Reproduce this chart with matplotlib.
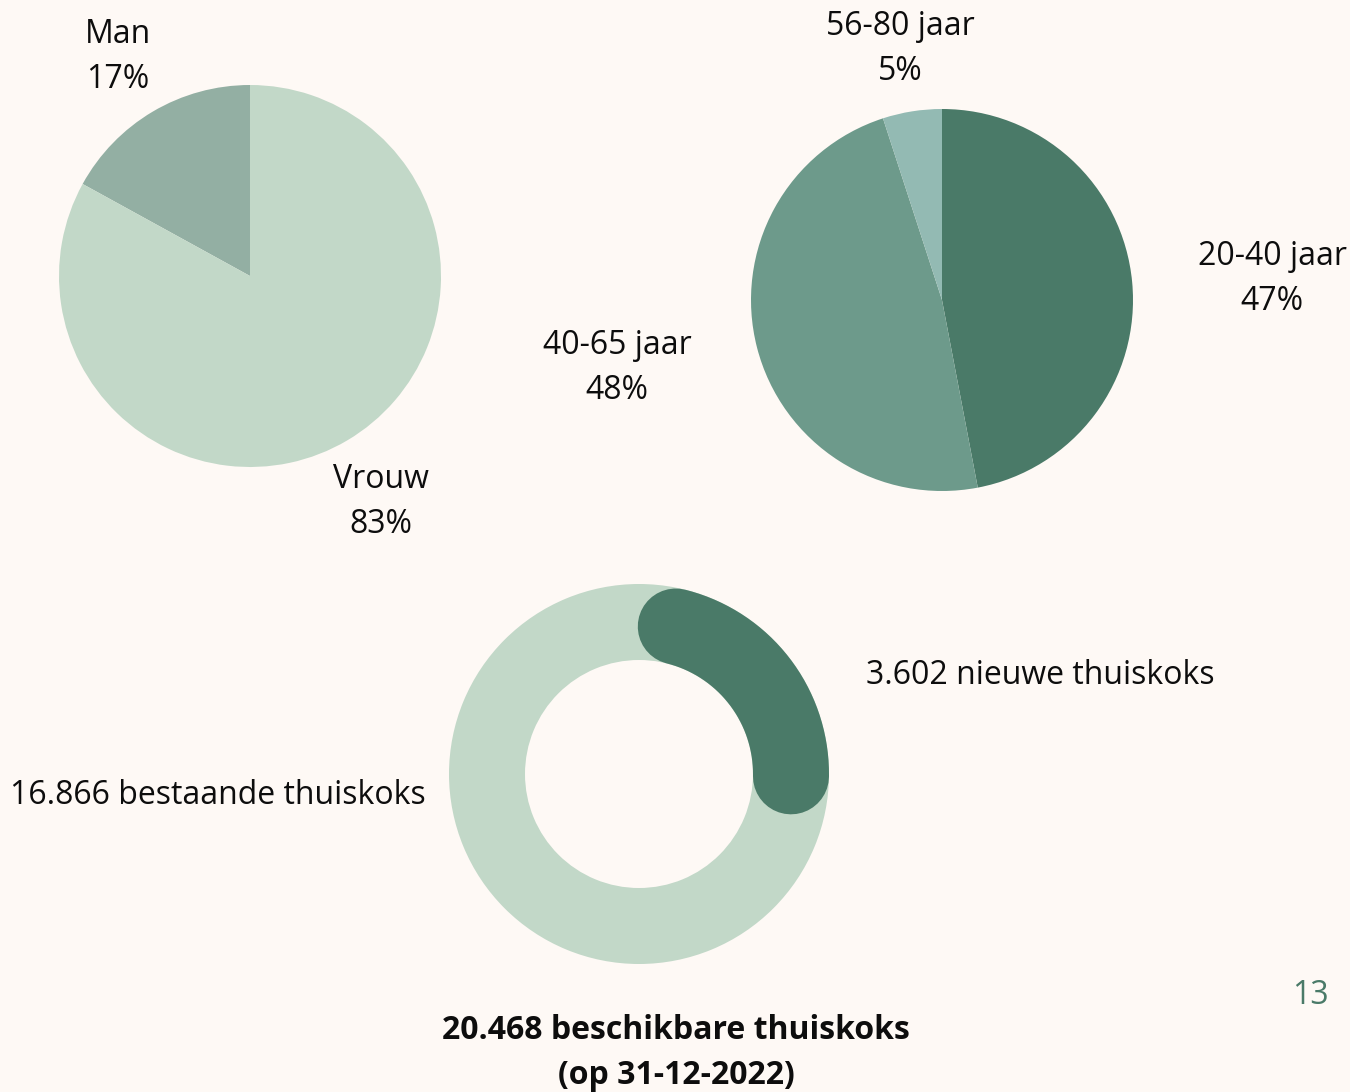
import numpy as np
import matplotlib.pyplot as plt

# Data
geslacht_labels = ['Man', 'Vrouw']
geslacht_pct = [17, 83]

leeftijd_labels = ['20-40 jaar', '40-65 jaar', '56-80 jaar']
leeftijd_pct = [47, 48, 5]

nieuw = 3602
bestaand = 16866
totaal = 20468

W, H = 1350, 1092
BG = '#fef9f5'
LICHT = '#c2d8c8'
DONKER = '#4a7a68'

plt.rcParams['font.family'] = ['Open Sans', 'DejaVu Sans']


# pixel (vanaf linksboven) -> figuur fractie
def px(x, y):
    return x / W, 1 - y / H


# assen met pixel-eenheden rond middelpunt (cx, cy)
def pixel_axes(fig, cx, cy, half=220):
    ax = fig.add_axes([(cx - half) / W, (H - cy - half) / H, 2 * half / W, 2 * half / H])
    return ax


def finish(ax, half=220):
    ax.set_xlim(-half, half)
    ax.set_ylim(-half, half)
    ax.set_aspect('equal')
    ax.axis('off')


fig = plt.figure(figsize=(W / 100, H / 100), dpi=100, facecolor=BG)

FS = 23
LS = 1.48

# Pie 1: geslacht
ax1 = pixel_axes(fig, 250, 276)
ax1.pie(geslacht_pct, radius=191, startangle=90, counterclock=True,
        colors=['#93afa3', LICHT], wedgeprops=dict(linewidth=0))
finish(ax1)

# Pie 2: leeftijd
ax2 = pixel_axes(fig, 942, 300)
ax2.pie(leeftijd_pct, radius=191, startangle=90, counterclock=False,
        colors=[DONKER, '#6d9a8b', '#93bab3'], wedgeprops=dict(linewidth=0))
finish(ax2)

# Donut
ax3 = pixel_axes(fig, 639, 774)
ax3.pie([1], radius=190, colors=[LICHT], wedgeprops=dict(width=76, linewidth=0))
start = 76.0
span = 360.0 * nieuw / bestaand
theta = np.radians(np.linspace(start, start - span, 200))
ax3.plot(152 * np.cos(theta), 152 * np.sin(theta), color=DONKER,
         linewidth=76 * 0.72, solid_capstyle='round')
finish(ax3)

labels = [
    (geslacht_labels[0] + '\n' + f'{geslacht_pct[0]}%', 118, 57),
    (geslacht_labels[1] + '\n' + f'{geslacht_pct[1]}%', 381, 502),
    (leeftijd_labels[2] + '\n' + f'{leeftijd_pct[2]}%', 900, 49),
    (leeftijd_labels[0] + '\n' + f'{leeftijd_pct[0]}%', 1272, 279),
    (leeftijd_labels[1] + '\n' + f'{leeftijd_pct[1]}%', 617, 368),
]
for txt, x, y in labels:
    fig.text(*px(x, y), txt, ha='center', va='center', fontsize=FS,
             linespacing=LS, color='#0d0d0d')

fig.text(*px(866, 676), f'{nieuw:,}'.replace(',', '.') + ' nieuwe thuiskoks',
         ha='left', va='center', fontsize=FS, color='#0d0d0d')
fig.text(*px(10, 796), f'{bestaand:,}'.replace(',', '.') + ' bestaande thuiskoks',
         ha='left', va='center', fontsize=FS, color='#0d0d0d')
fig.text(*px(676, 1053), f'{totaal:,}'.replace(',', '.') + ' beschikbare thuiskoks\n(op 31-12-2022)',
         ha='center', va='center', fontsize=FS, fontweight='bold',
         linespacing=LS, color='#0d0d0d')
fig.text(*px(1310, 995), '13', ha='center', va='center', fontsize=FS, color=DONKER)

fig.savefig('out.png', dpi=100, facecolor=BG)
